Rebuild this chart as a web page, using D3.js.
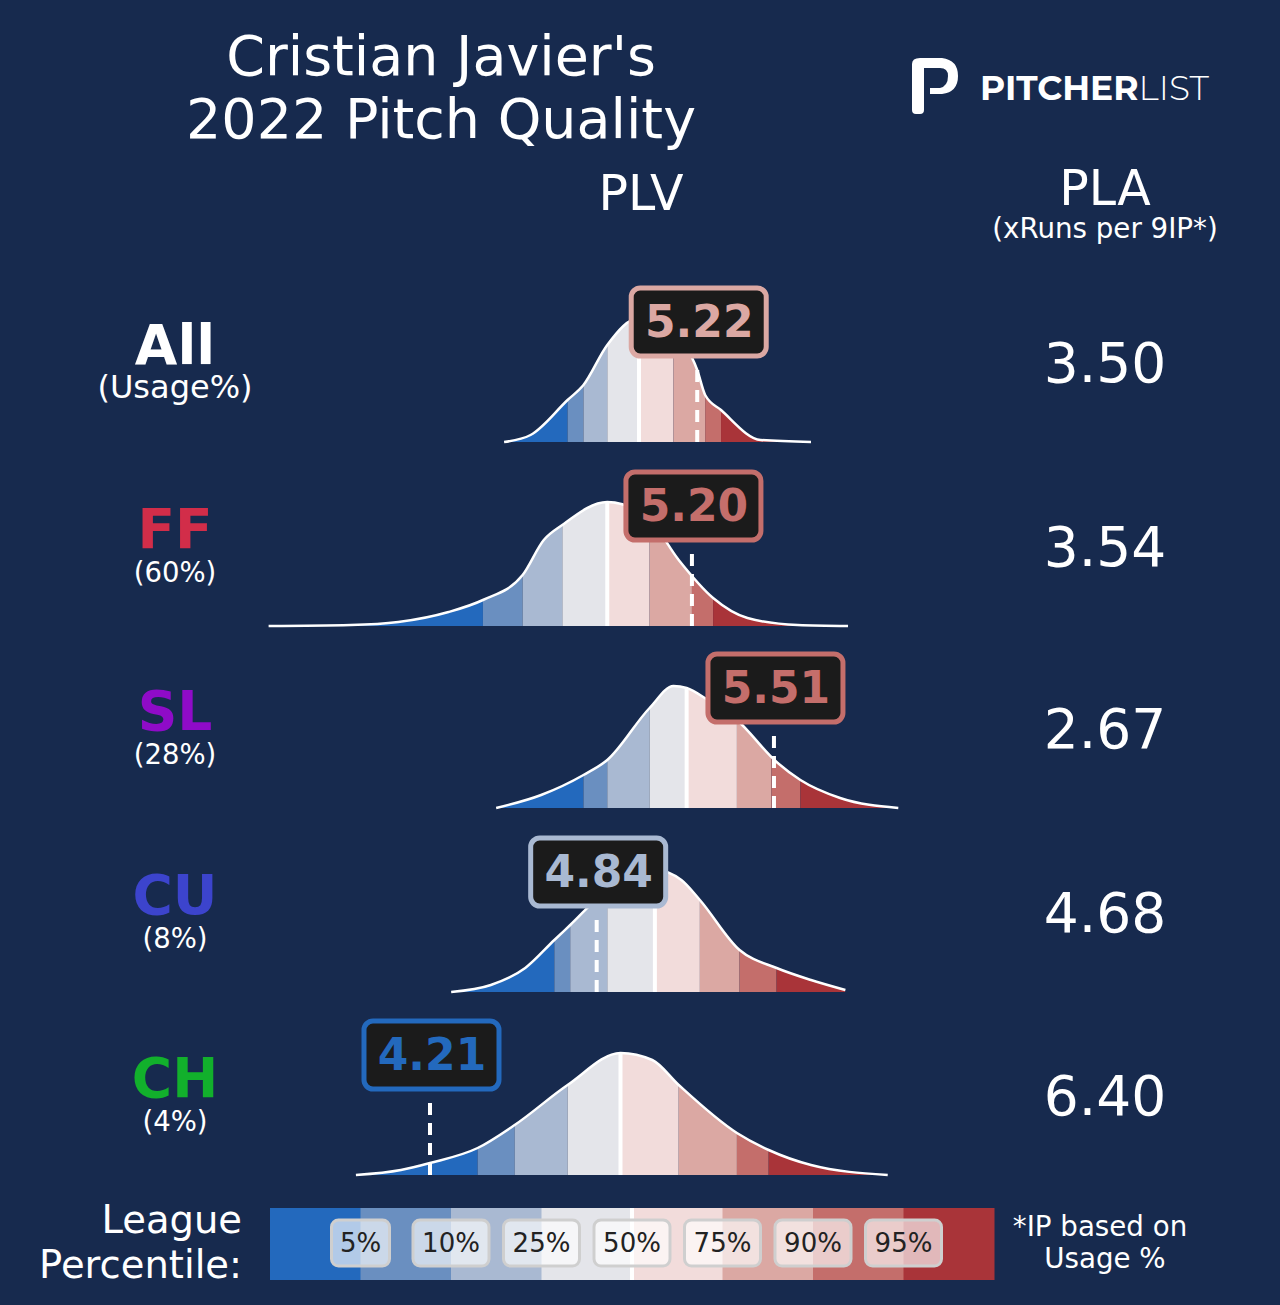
<!DOCTYPE html>
<html><head><meta charset="utf-8">
<script src="https://cdn.jsdelivr.net/npm/d3@7"></script>
<style>body{margin:0;background:#172a4e}svg{display:block;font-family:"DejaVu Sans",sans-serif}</style>
</head><body><svg id="chart" width="1280" height="1305"></svg>
<script>
// pitch rows
var pitches = ["All","FF","SL","CU","CH"];
var usage = ["(Usage%)","(60%)","(28%)","(8%)","(4%)"];
var pitchColors = ["#ffffff","#d22d49","#8f0bc8","#3c44cd","#12b02c"];
var plv = [5.22,5.20,5.51,4.84,4.21];
var pla = ["3.50","3.54","2.67","4.68","6.40"];
// league percentile cutoffs (5,10,25,50,75,90,95) in PLV
var cutoffs = [
  [4.73,4.79,4.88,5.00,5.13,5.25,5.31],
  [4.41,4.56,4.71,4.88,5.04,5.20,5.28],
  [4.79,4.88,5.04,5.18,5.37,5.50,5.61],
  [4.68,4.74,4.88,5.06,5.23,5.38,5.52],
  [4.39,4.53,4.73,4.93,5.15,5.37,5.49]
];
// league density curves: PLV sample points and heights
var densX = [
  [4.49,4.59,4.73,4.79,4.88,5.00,5.13,5.22,5.25,5.31,5.46,5.65],
  [3.60,3.91,4.09,4.28,4.41,4.56,4.64,4.71,4.88,5.04,5.15,5.28,5.41,5.60,5.79],
  [4.46,4.63,4.79,4.88,5.04,5.13,5.18,5.26,5.37,5.52,5.61,5.76,5.98],
  [4.29,4.44,4.57,4.68,4.74,4.88,5.06,5.16,5.23,5.38,5.52,5.65,5.78],
  [3.93,4.10,4.21,4.39,4.53,4.73,4.93,5.05,5.15,5.37,5.49,5.65,5.94]
];
var densY = [
  [0,7,42,57,97,124,107,72,47,32,2,0],
  [0,1,4,14,26,51,86,101,124,106,66,28,8,1,0],
  [0,13,33,48,100,122,120,108,88,46,28,10,0],
  [0,7,24,52,67,102,122,112,92,42,24,12,2],
  [0,5,12,27,50,90,122,115,90,42,25,10,0]
];
var bandColors = ["#2369bd","#6a8fc0","#a9b9d2","#e4e5ea","#f2dcdb","#dba8a3","#c46e6b","#a93439"];
var legendLabels = ["5%","10%","25%","50%","75%","90%","95%"];
var baselines = [442,626,808,992,1175];

var svg = d3.select("#chart");
var x = d3.scaleLinear().domain([3.6,6.0]).range([268.6,903.6]);
var h = d3.scaleLinear().domain([0,124]).range([0,124]);

function bandIndex(v, cuts){ var i=0; while(i<cuts.length && v>=cuts[i]) i++; return i; }

// titles
svg.append("text").attr("x",441).attr("y",75).attr("text-anchor","middle").attr("fill","#fff").attr("font-size",55.5).text("Cristian Javier's");
svg.append("text").attr("x",441).attr("y",138).attr("text-anchor","middle").attr("fill","#fff").attr("font-size",55.5).text("2022 Pitch Quality");
svg.append("text").attr("x",641).attr("y",210).attr("text-anchor","middle").attr("fill","#fff").attr("font-size",49).text("PLV");
svg.append("text").attr("x",1105).attr("y",205).attr("text-anchor","middle").attr("fill","#fff").attr("font-size",49).text("PLA");
svg.append("text").attr("x",1105).attr("y",238).attr("text-anchor","middle").attr("fill","#fff").attr("font-size",27.7).text("(xRuns per 9IP*)");

// logo
var logo = svg.append("g").attr("transform","translate(910,58)");
logo.append("path").attr("fill","#fff")
  .attr("d","M2,6 Q2,0 10,0 L32,0 Q48,2 48,18 Q48,34 32,36 L20,36 L20,30 L30,30 Q38,28 38,18 Q38,10 30,10 L14,10 L14,52 Q14,56 10,56 L6,56 Q2,56 2,52 Z");
var lt = logo.append("text").attr("x",70).attr("y",42).attr("fill","#fff").attr("font-size",34.5).attr("font-family","Montserrat, 'Open Sans', sans-serif");
lt.append("tspan").attr("font-weight",700).text("PITCHER");
lt.append("tspan").attr("font-weight",300).text("LIST");

pitches.forEach(function(p,r){
  var b = baselines[r];
  var g = svg.append("g");
  var pts = densX[r].map(function(v,i){return [v,densY[r][i]];});
  var area = d3.area().curve(d3.curveMonotoneX).x(function(d){return x(d[0]);}).y0(b).y1(function(d){return b-h(d[1]);});
  var line = d3.line().curve(d3.curveMonotoneX).x(function(d){return x(d[0]);}).y(function(d){return b-h(d[1]);});
  var id = "clip"+r;
  g.append("clipPath").attr("id",id).append("path").attr("d",area(pts));
  var edges = [densX[r][0]].concat(cutoffs[r]).concat([densX[r][densX[r].length-1]]);
  g.append("g").attr("clip-path","url(#"+id+")").selectAll("rect").data(bandColors).join("rect")
    .attr("x",function(d,i){return x(edges[i]);}).attr("width",function(d,i){return x(edges[i+1])-x(edges[i]);})
    .attr("y",b-140).attr("height",140).attr("fill",function(d){return d;});
  g.append("line").attr("clip-path","url(#"+id+")").attr("x1",x(cutoffs[r][3])).attr("x2",x(cutoffs[r][3]))
    .attr("y1",b-140).attr("y2",b).attr("stroke","#fff").attr("stroke-width",4);
  g.append("path").attr("d",line(pts)).attr("fill","none").attr("stroke","#fff").attr("stroke-width",2.5);
  var c = bandColors[bandIndex(plv[r],cutoffs[r])];
  var vx = x(plv[r]);
  g.append("line").attr("x1",vx).attr("x2",vx).attr("y1",b).attr("y2",b-76)
    .attr("stroke","#fff").attr("stroke-width",4).attr("stroke-dasharray","12,8");
  g.append("rect").attr("x",vx-66).attr("y",b-154).attr("width",135).attr("height",68).attr("rx",9)
    .attr("fill","#1b1b1b").attr("stroke",c).attr("stroke-width",5);
  g.append("text").attr("x",vx+2).attr("y",b-105).attr("text-anchor","middle").attr("fill",c)
    .attr("font-size",44).attr("font-weight","bold").text(plv[r].toFixed(2));
  svg.append("text").attr("x",175).attr("y",b-78).attr("text-anchor","middle").attr("fill",pitchColors[r])
    .attr("font-size",55).attr("font-weight","bold").text(p);
  svg.append("text").attr("x",175).attr("y",b-44).attr("text-anchor","middle").attr("fill","#fff")
    .attr("font-size",r==0?32:27.5).text(usage[r]);
  svg.append("text").attr("x",1105).attr("y",b-60).attr("text-anchor","middle").attr("fill","#fff")
    .attr("font-size",55).text(pla[r]);
});

// legend
var lx = d3.scaleLinear().domain([0,8]).range([270,994]);
var lg = svg.append("g");
lg.selectAll("rect.band").data(bandColors).join("rect").attr("class","band")
  .attr("x",function(d,i){return lx(i);}).attr("width",lx(1)-lx(0)+0.5).attr("y",1208).attr("height",72)
  .attr("fill",function(d){return d;});
lg.append("rect").attr("x",lx(4)-2).attr("y",1208).attr("width",4).attr("height",72).attr("fill","#fff");
legendLabels.forEach(function(t,i){
  var cx = lx(i+1), w = t.length==2?58:76;
  lg.append("rect").attr("x",cx-w/2).attr("y",1220).attr("width",w).attr("height",46).attr("rx",7)
    .attr("fill","rgba(255,255,255,0.65)").attr("stroke","#cfcfcf").attr("stroke-width",3);
  lg.append("text").attr("x",cx).attr("y",1252).attr("text-anchor","middle").attr("fill","#222").attr("font-size",26).text(t);
});
svg.append("text").attr("x",242).attr("y",1233).attr("text-anchor","end").attr("fill","#fff").attr("font-size",38.5).text("League");
svg.append("text").attr("x",242).attr("y",1278).attr("text-anchor","end").attr("fill","#fff").attr("font-size",38.5).text("Percentile:");
svg.append("text").attr("x",1100).attr("y",1236).attr("text-anchor","middle").attr("fill","#fff").attr("font-size",27.7).text("*IP based on");
svg.append("text").attr("x",1105).attr("y",1268).attr("text-anchor","middle").attr("fill","#fff").attr("font-size",27.7).text("Usage %");
</script></body></html>
